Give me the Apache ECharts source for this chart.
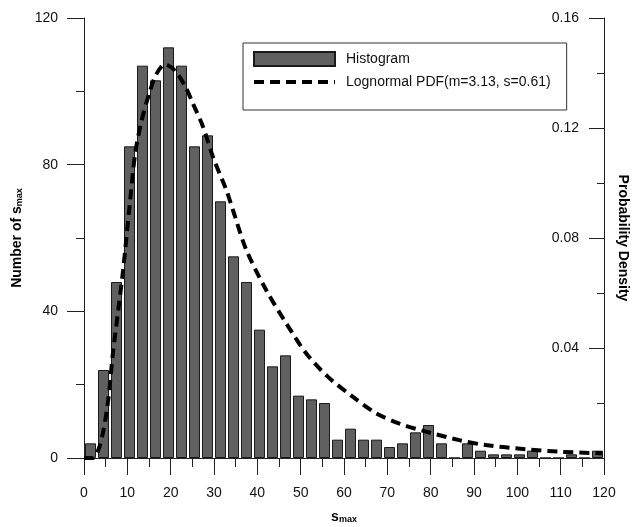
<!DOCTYPE html>
<html><head><meta charset="utf-8">
<script src="https://cdn.jsdelivr.net/npm/echarts@6/dist/echarts.min.js"></script>
<style>html,body{margin:0;padding:0;background:#fff}#c{width:636px;height:527px}</style>
</head><body><div id="c"></div><script>
// Histogram bins (width 3), bin centres
const binCenters = [1.5,4.5,7.5,10.5,13.5,16.5,19.5,22.5,25.5,28.5,31.5,34.5,37.5,40.5,43.5,46.5,49.5,52.5,55.5,58.5,61.5,64.5,67.5,70.5,73.5,76.5,79.5,82.5,85.5,88.5,91.5,94.5,97.5,100.5,103.5,106.5,109.5,112.5,115.5,118.5];
const counts = [4,24,48,85,107,103,112,107,85,88,70,55,48,35,25,28,17,16,15,5,8,5,5,3,4,7,9,4,0,4,2,1,1,1,2,0,0,1,0,2];
// Lognormal PDF curve (right axis units)
const pdfX = [0,2.1,3.3,4.5,5.6,6.7,7.9,9.0,10.5,11.8,13.3,15.2,16.7,18.7,21.0,23.3,25.2,27.5,29.8,32.9,34.4,37.5,42.1,46.7,51.3,56.3,62.0,67.4,72.8,78.9,86.6,92.7,101.9,109.6,119.6];
const pdfY = [0,0,0.0029,0.0101,0.0213,0.0385,0.0537,0.0680,0.0913,0.1105,0.1227,0.1333,0.1396,0.1432,0.1408,0.1353,0.1287,0.1203,0.1093,0.0972,0.0900,0.0755,0.0609,0.0489,0.0380,0.0295,0.0223,0.0163,0.0125,0.0096,0.0065,0.0047,0.0032,0.0023,0.0017];
const seriesNames = ['Histogram', 'Lognormal PDF(m=3.13, s=0.61)'];

const chart = echarts.init(document.getElementById('c'), null, {renderer: 'canvas'});
const FONT = 'Liberation Sans, Arial, sans-serif';
const axisColor = '#222';
const subRich = {
  b: {fontFamily: FONT, fontWeight: 'bold', fontSize: 14, color: '#000'},
  sub: {fontFamily: FONT, fontWeight: 'bold', fontSize: 9, color: '#000', verticalAlign: 'bottom', padding: [5, 0, 0, 0]}
};
const dash = {color: '#000', width: 4, type: [10, 6]};
chart.setOption({
  backgroundColor: '#fff',
  animation: false,
  textStyle: {fontFamily: FONT},
  grid: {left: 84, right: 32, top: 18, bottom: 69, containLabel: false, outerBoundsMode: 'none'},
  legend: {
    data: [{name: seriesNames[0], icon: 'rect'},
           {name: seriesNames[1], itemStyle: {opacity: 0}, lineStyle: dash}],
    orient: 'vertical',
    left: 243, top: 43,
    padding: [8, 16, 21, 9],
    itemWidth: 81, itemHeight: 14, itemGap: 8,
    borderColor: '#333', borderWidth: 1,
    selectedMode: false,
    textStyle: {fontFamily: FONT, fontSize: 14, color: '#111', padding: [0, 0, 0, 6]}
  },
  xAxis: {
    type: 'value', min: 0, max: 120, interval: 10,
    name: '{b|s}{sub|max}', nameLocation: 'middle', nameGap: 52,
    nameTextStyle: {rich: subRich},
    axisLine: {show: true, onZero: false, lineStyle: {color: axisColor, width: 1}},
    axisTick: {show: true, length: 17, lineStyle: {color: axisColor}},
    minorTick: {show: true, splitNumber: 2, length: 9, lineStyle: {color: axisColor}},
    axisLabel: {fontFamily: FONT, fontSize: 14, color: '#111', margin: 28},
    splitLine: {show: false}
  },
  yAxis: [{
    type: 'value', min: 0, max: 120, interval: 40, position: 'left',
    name: '{b|Number of s}{sub|max}', nameLocation: 'middle', nameGap: 56, nameRotate: 90,
    nameTextStyle: {rich: subRich},
    axisLine: {show: true, lineStyle: {color: axisColor, width: 1}},
    axisTick: {show: true, length: 17, lineStyle: {color: axisColor}},
    minorTick: {show: true, splitNumber: 2, length: 8, lineStyle: {color: axisColor}},
    axisLabel: {fontFamily: FONT, fontSize: 14, color: '#111', margin: 26},
    splitLine: {show: false}
  }, {
    type: 'value', min: 0, max: 0.16, interval: 0.04, position: 'right',
    name: 'Probability Density', nameLocation: 'middle', nameGap: 12, nameRotate: -90,
    nameTextStyle: {fontFamily: FONT, fontWeight: 'bold', fontSize: 14, color: '#000'},
    axisLine: {show: true, lineStyle: {color: axisColor, width: 1}},
    axisTick: {show: true, inside: true, length: 15, lineStyle: {color: axisColor}},
    minorTick: {show: true, splitNumber: 2, length: 7, lineStyle: {color: axisColor}},
    axisLabel: {inside: true, fontFamily: FONT, fontSize: 14, color: '#111', margin: 25,
      formatter: v => v === 0 ? '' : v.toFixed(2)},
    splitLine: {show: false}
  }],
  series: [{
    name: seriesNames[0], type: 'bar', yAxisIndex: 0, barWidth: 11,
    data: binCenters.map((c, i) => [c, counts[i]]),
    itemStyle: {color: '#606060', borderColor: '#1a1a1a', borderWidth: 1}
  }, {
    name: seriesNames[1], type: 'line', yAxisIndex: 1, symbol: 'none', smooth: 0.3,
    data: pdfX.map((x, i) => [x, pdfY[i]]),
    lineStyle: dash,
    itemStyle: {color: '#000'},
    z: 5
  }]
});
</script></body></html>
